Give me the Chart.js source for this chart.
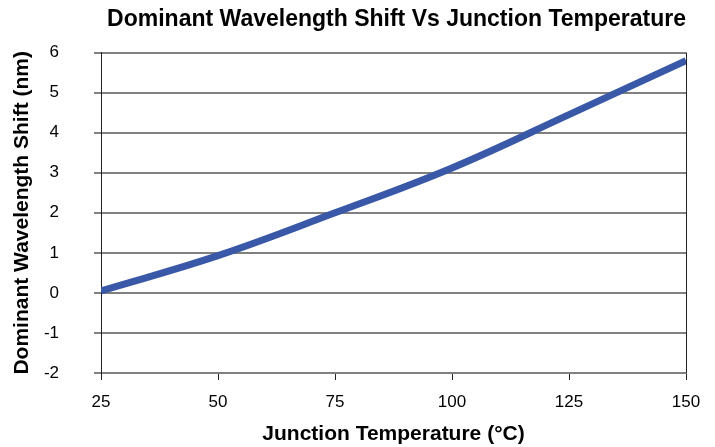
<!DOCTYPE html>
<html>
<head>
<meta charset="utf-8">
<script src="https://cdn.jsdelivr.net/npm/chart.js@4.4.1/dist/chart.umd.min.js"></script>
<style>
  html, body { margin: 0; padding: 0; background: #fff; }
  #wrap { width: 715px; height: 447px; }
</style>
</head>
<body>
<div id="wrap"><canvas id="Chart" width="715" height="447"></canvas></div>
<script>
const temperatures = [25, 50, 75, 100, 125, 150];
const shift = [0.05, 0.93, 2.0, 3.12, 4.45, 5.8];
const xTicks = [25, 50, 75, 100, 125, 150];
const yTicks = [-2, -1, 0, 1, 2, 3, 4, 5, 6];

const font = "'Liberation Sans', Arial, sans-serif";

// right edge of the plot frame
const frame = {
    id: "frame",
    afterDraw(chart) {
        const a = chart.chartArea, ctx = chart.ctx;
        ctx.save();
        ctx.strokeStyle = "#222";
        ctx.lineWidth = 1;
        ctx.beginPath();
        ctx.moveTo(Math.round(a.right) + 0.5, a.top);
        ctx.lineTo(Math.round(a.right) + 0.5, a.bottom);
        ctx.stroke();
        ctx.restore();
    }
};

const data = {
    datasets: [{
        label: "Shift",
        data: temperatures.map((t, i) => ({ x: t, y: shift[i] })),
        borderColor: "rgb(58, 88, 168)",
        borderWidth: 7,
        pointRadius: 0,
        tension: 0.4,
        fill: false,
    }],
};

const config = {
    type: "line",
    data: data,
    options: {
        responsive: false,
        animation: false,
        layout: { padding: { top: 2, right: 29, left: 10, bottom: 0 } },
        plugins: {
            legend: { display: false },
            tooltip: { enabled: false },
            title: {
                display: true,
                align: "end",
                text: "Dominant Wavelength Shift Vs Junction Temperature",
                color: "#000",
                font: { family: font, size: 23, weight: "bold" },
                padding: { top: 4, bottom: 19 },
            },
        },
        scales: {
            x: {
                type: "linear",
                min: 25,
                max: 150,
                afterBuildTicks: (s) => { s.ticks = xTicks.map(v => ({ value: v })); },
                afterFit: (s) => { s.height = 74; },
                grid: {
                    drawOnChartArea: false,
                    color: "#222",
                    tickLength: 7,
                },
                border: { color: "#808080", width: 2 },
                ticks: {
                    color: "#000",
                    font: { family: font, size: 17 },
                    padding: 12,
                },
                title: {
                    display: true,
                    text: "Junction Temperature (°C)",
                    color: "#000",
                    font: { family: font, size: 21, weight: "bold" },
                    padding: { top: 4, bottom: 0 },
                },
            },
            y: {
                min: -2,
                max: 6,
                afterBuildTicks: (s) => { s.ticks = yTicks.map(v => ({ value: v })); },
                afterFit: (s) => { s.width = 91; },
                grid: {
                    color: "#808080",
                    lineWidth: 2,
                    tickLength: 7,
                },
                border: { color: "#222", width: 1 },
                ticks: {
                    color: "#000",
                    font: { family: font, size: 17 },
                    padding: 35,
                },
                title: {
                    display: true,
                    text: "Dominant Wavelength Shift (nm)",
                    color: "#000",
                    font: { family: font, size: 21, weight: "bold" },
                    padding: { top: 0, bottom: 13 },
                },
            },
        },
    },
    plugins: [frame],
};

const myChart = new Chart(document.getElementById("Chart"), config);
</script>
</body>
</html>
